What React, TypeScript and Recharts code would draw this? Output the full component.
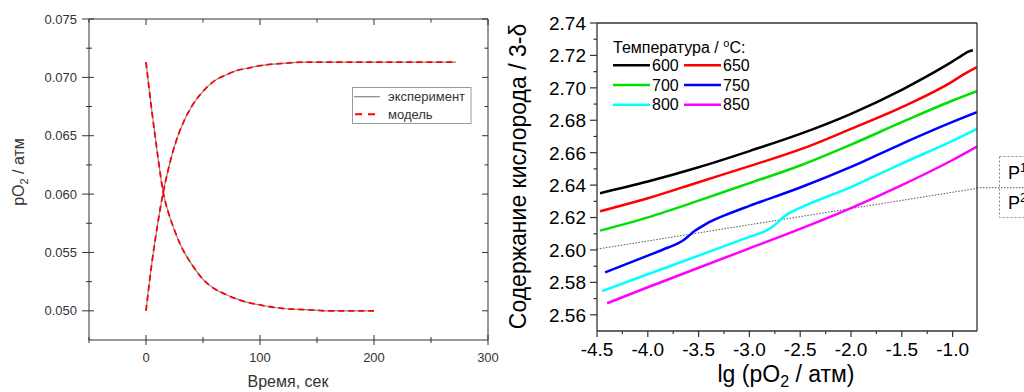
import React from "react";
import { LineChart, Line, XAxis, YAxis } from "recharts";

// ---- left panel: pO2 relaxation ----
const riseTime = [0, 5, 10, 15, 20, 25, 30, 40, 50, 60, 70, 80, 90, 100, 120, 140, 160, 200, 240, 272];
const risePO2 = [0.05, 0.054, 0.0573, 0.0601, 0.0623, 0.0641, 0.0655, 0.0675, 0.0688, 0.0697, 0.0702, 0.0706, 0.0708, 0.071, 0.0712, 0.0713, 0.0713, 0.0713, 0.0713, 0.0713];
const fallTime = [0, 5, 10, 15, 20, 25, 30, 40, 50, 60, 70, 80, 90, 100, 120, 140, 160, 180, 200];
const fallPO2 = [0.0713, 0.0672, 0.0635, 0.0602, 0.0583, 0.0569, 0.0557, 0.054, 0.0527, 0.0519, 0.0514, 0.051, 0.0507, 0.0505, 0.0502, 0.0501, 0.05, 0.05, 0.05];
const timeTicks = [-50, 0, 50, 100, 150, 200, 250, 300];
const po2Ticks = [0.05, 0.0525, 0.055, 0.0575, 0.06, 0.0625, 0.065, 0.0675, 0.07, 0.0725, 0.075];

// ---- right panel: oxygen content vs lg pO2 ----
const lg600 = [-4.47, -4.0, -3.5, -3.0, -2.5, -2.0, -1.5, -1.25, -1.0, -0.9, -0.85, -0.8];
const oc600 = [2.635, 2.6422, 2.651, 2.661, 2.6716, 2.684, 2.6988, 2.7072, 2.7163, 2.7203, 2.7222, 2.7232];
const lg650 = [-4.47, -4.0, -3.5, -3.0, -2.5, -2.0, -1.5, -1.0, -0.9, -0.76];
const oc650 = [2.6239, 2.6319, 2.6418, 2.6517, 2.662, 2.6747, 2.6881, 2.704, 2.708, 2.7128];
const lg700 = [-4.47, -4.0, -3.5, -3.0, -2.5, -2.0, -1.5, -1.0, -0.76];
const oc700 = [2.6119, 2.6201, 2.6304, 2.6412, 2.6521, 2.665, 2.6788, 2.6922, 2.698];
const lg750 = [-4.42, -4.0, -3.8, -3.7, -3.65, -3.6, -3.55, -3.5, -3.45, -3.4, -3.2, -3.0, -2.5, -2.0, -1.5, -1.0, -0.76];
const oc750 = [2.5862, 2.5965, 2.6015, 2.6042, 2.606, 2.6085, 2.6112, 2.6133, 2.6152, 2.617, 2.6225, 2.6272, 2.6385, 2.6512, 2.6655, 2.679, 2.685];
const lg800 = [-4.45, -4.0, -3.5, -3.0, -2.85, -2.78, -2.72, -2.66, -2.6, -2.5, -2.0, -1.5, -1.0, -0.76];
const oc800 = [2.5746, 2.585, 2.5965, 2.6081, 2.6115, 2.614, 2.617, 2.6205, 2.623, 2.626, 2.6388, 2.6533, 2.6673, 2.6747];
const lg850 = [-4.4, -4.0, -3.5, -3.0, -2.5, -2.0, -1.5, -1.0, -0.76];
const oc850 = [2.5671, 2.577, 2.589, 2.601, 2.613, 2.6258, 2.64, 2.6555, 2.6638];
const lgBorder = [-4.5, -0.76];
const ocBorder = [2.6005, 2.638];
const lgTicks = [-4.5, -4.25, -4.0, -3.75, -3.5, -3.25, -3.0, -2.75, -2.5, -2.25, -2.0, -1.75, -1.5, -1.25, -1.0];
const ocTicks = [2.56, 2.57, 2.58, 2.59, 2.6, 2.61, 2.62, 2.63, 2.64, 2.65, 2.66, 2.67, 2.68, 2.69, 2.7, 2.71, 2.72, 2.73, 2.74];
const temps = ["600", "650", "700", "750", "800", "850"];
const tempColors = ["#000000", "#ff0000", "#00e000", "#0000ff", "#00ffff", "#ff00ff"];

const FONT = "'Liberation Sans', Arial, Helvetica, sans-serif";
const AX = "#333";

const zip = (xs: number[], ys: number[], xk: string, yk: string) =>
  xs.map((x, i) => ({ [xk]: x, [yk]: ys[i] }));

const near = (v: number, step: number) => Math.abs(v / step - Math.round(v / step)) < 1e-6;

const riseData = zip(riseTime, risePO2, "t", "p");
const fallData = zip(fallTime, fallPO2, "t", "p");
const series = [
  zip(lg600, oc600, "x", "y"),
  zip(lg650, oc650, "x", "y"),
  zip(lg700, oc700, "x", "y"),
  zip(lg750, oc750, "x", "y"),
  zip(lg800, oc800, "x", "y"),
  zip(lg850, oc850, "x", "y"),
];
const borderData = zip(lgBorder, ocBorder, "x", "y");

// tick renderers: (x, y) is the point on the axis line (tickSize/tickMargin are 0)
const leftYTick = (p: any) => {
  const major = near(p.payload.value, 0.005);
  return (
    <g>
      <line x1={p.x - (major ? 7 : 3)} x2={p.x + (major ? 5 : 3)} y1={p.y} y2={p.y} stroke={AX} />
      {major && (
        <text x={p.x - 12} y={p.y} dy="0.36em" textAnchor="end" fontSize={13} fill={AX} fontFamily={FONT}>
          {p.payload.value.toFixed(3)}
        </text>
      )}
    </g>
  );
};
const rightYTick = (p: any) => {
  const major = near(p.payload.value, 0.005);
  return <line x1={p.x} x2={p.x - (major ? 6 : 3.5)} y1={p.y} y2={p.y} stroke={AX} />;
};
const bottomXTick = (p: any) => {
  const major = near(p.payload.value, 100);
  return (
    <g>
      <line x1={p.x} x2={p.x} y1={p.y - (major ? 5 : 3)} y2={p.y + (major ? 5 : 3)} stroke={AX} />
      {major && (
        <text x={p.x} y={p.y + 22} textAnchor="middle" fontSize={13} fill={AX} fontFamily={FONT}>
          {p.payload.value}
        </text>
      )}
    </g>
  );
};
const topXTick = (p: any) => {
  const major = near(p.payload.value, 100);
  return <line x1={p.x} x2={p.x} y1={p.y} y2={p.y + (major ? 6 : 3.5)} stroke={AX} />;
};
const ocTick = (p: any) => {
  const major = near(p.payload.value, 0.02);
  return (
    <g>
      <line x1={p.x - (major ? 7 : 3.5)} x2={p.x} y1={p.y} y2={p.y} stroke={AX} strokeWidth={1.2} />
      {major && (
        <text x={p.x - 11} y={p.y} dy="0.36em" textAnchor="end" fontSize={19} fill="#000" fontFamily={FONT}>
          {p.payload.value.toFixed(2)}
        </text>
      )}
    </g>
  );
};
const lgTick = (p: any) => {
  const major = near(p.payload.value, 0.5);
  return (
    <g>
      <line x1={p.x} x2={p.x} y1={p.y} y2={p.y + (major ? 6 : 3)} stroke={AX} strokeWidth={1.2} />
      {major && (
        <text x={p.x} y={p.y + 25} textAnchor="middle" fontSize={19} fill="#000" fontFamily={FONT}>
          {p.payload.value.toFixed(1)}
        </text>
      )}
    </g>
  );
};

const App = () => {
  return (
    <div style={{ position: "absolute", left: 0, top: 0, width: 1024, height: 392, background: "#fff" }}>
      <div style={{ position: "absolute", left: 0, top: 0 }}>
        <LineChart width={500} height={392} margin={{ top: 18, right: 11, bottom: 51, left: 88 }}>
          <XAxis type="number" dataKey="t" domain={[-50, 300]} ticks={timeTicks} interval={0} height={1}
            tickSize={0} tickMargin={0} tickLine={false} tick={bottomXTick} stroke={AX} allowDataOverflow />
          <XAxis xAxisId="top" orientation="top" type="number" dataKey="t" domain={[-50, 300]} ticks={timeTicks}
            interval={0} height={1} tickSize={0} tickMargin={0} tickLine={false} tick={topXTick} stroke={AX} allowDataOverflow />
          <YAxis type="number" domain={[0.0475, 0.075]} ticks={po2Ticks} interval={0} width={1}
            tickSize={0} tickMargin={0} tickLine={false} tick={leftYTick} stroke={AX} allowDataOverflow />
          <YAxis yAxisId="right" orientation="right" type="number" domain={[0.0475, 0.075]} ticks={po2Ticks}
            interval={0} width={1} tickSize={0} tickMargin={0} tickLine={false} tick={rightYTick} stroke={AX} allowDataOverflow />
          <Line data={riseData} dataKey="p" type="monotone" stroke="#888" strokeWidth={1.2} dot={false} isAnimationActive={false} />
          <Line data={fallData} dataKey="p" type="monotone" stroke="#888" strokeWidth={1.2} dot={false} isAnimationActive={false} />
          <Line data={riseData} dataKey="p" type="monotone" stroke="#ff0000" strokeWidth={1.8} strokeDasharray="6 4" dot={false} isAnimationActive={false} />
          <Line data={fallData} dataKey="p" type="monotone" stroke="#ff0000" strokeWidth={1.8} strokeDasharray="6 4" dot={false} isAnimationActive={false} />
        </LineChart>
      </div>
      <div style={{ position: "absolute", left: 500, top: 0 }}>
        <LineChart width={524} height={392} margin={{ top: 22, right: 46, bottom: 60, left: 96 }}>
          <XAxis type="number" dataKey="x" domain={[-4.5, -0.76]} ticks={lgTicks} interval={0} height={1}
            tickSize={0} tickMargin={0} tickLine={false} tick={lgTick} stroke={AX} strokeWidth={1.3} allowDataOverflow />
          <XAxis xAxisId="top" orientation="top" type="number" dataKey="x" domain={[-4.5, -0.76]} height={1}
            tickLine={false} tick={false} stroke={AX} strokeWidth={1.3} allowDataOverflow />
          <YAxis type="number" domain={[2.55, 2.74]} ticks={ocTicks} interval={0} width={1}
            tickSize={0} tickMargin={0} tickLine={false} tick={ocTick} stroke={AX} strokeWidth={1.3} allowDataOverflow />
          <YAxis yAxisId="right" orientation="right" type="number" domain={[2.55, 2.74]} width={1}
            tickLine={false} tick={false} stroke={AX} strokeWidth={1.3} allowDataOverflow />
          <Line data={borderData} dataKey="y" type="linear" stroke="#555" strokeWidth={1} strokeDasharray="1.5 1.5" dot={false} isAnimationActive={false} />
          {series.map((d, i) => (
            <Line key={temps[i]} data={d} dataKey="y" type="monotone" stroke={tempColors[i]} strokeWidth={2.5} dot={false} isAnimationActive={false} />
          ))}
        </LineChart>
      </div>
      <svg width={1024} height={392} style={{ position: "absolute", left: 0, top: 0, pointerEvents: "none" }} fontFamily={FONT}>
        {/* left axis titles */}
        <text transform="translate(24,172) rotate(-90)" textAnchor="middle" fontSize={16} fill={AX}>
          pO<tspan fontSize={11} dy={4}>2</tspan><tspan dy={-4}> / атм</tspan>
        </text>
        <text x={288} y={387} textAnchor="middle" fontSize={16} fill={AX}>Время, сек</text>
        {/* left legend */}
        <rect x={352.5} y={87.5} width={118.5} height={36} fill="#fff" stroke="#999" />
        <line x1={354} x2={380} y1={96.7} y2={96.7} stroke="#888" strokeWidth={1.2} />
        <text x={388} y={101.3} fontSize={13} fill={AX}>эксперимент</text>
        <line x1={355} x2={378} y1={114.3} y2={114.3} stroke="#ff0000" strokeWidth={2} strokeDasharray="7 6" />
        <text x={388} y={118.9} fontSize={13} fill={AX}>модель</text>
        {/* right axis titles */}
        <text transform="translate(526,176.5) rotate(-90)" textAnchor="middle" fontSize={23} fill="#000">
          Содержание кислорода / 3-δ
        </text>
        <text x={786} y={382} textAnchor="middle" fontSize={23} fill="#000">
          lg (pO<tspan fontSize={16} dy={5}>2</tspan><tspan dy={-5}> / атм)</tspan>
        </text>
        {/* right legend */}
        <text x={613} y={52.5} fontSize={16} fill="#000">
          Температура / <tspan fontSize={11} dy={-6}>o</tspan><tspan dy={6}>C:</tspan>
        </text>
        {temps.map((t, i) => {
          const col = i % 2;
          const row = Math.floor(i / 2);
          const y = 65.3 + row * 19.7;
          const x0 = 613 + col * 71;
          return (
            <g key={t}>
              <line x1={x0} x2={x0 + 37} y1={y} y2={y} stroke={tempColors[i]} strokeWidth={2.5} />
              <text x={x0 + 39} y={y + 5.7} fontSize={16} fill="#000">{t}</text>
            </g>
          );
        })}
        {/* cut-off side panel */}
        <line x1={977} x2={1024} y1={187.7} y2={187.7} stroke="#555" strokeDasharray="1.5 1.5" />
        <rect x={999.5} y={156.5} width={60} height={61} fill="none" stroke="#888" strokeDasharray="2 2" />
        <text x={1008} y={179} fontSize={18} fill="#000">P<tspan fontSize={12} dy={-7}>1</tspan></text>
        <text x={1008} y={209} fontSize={18} fill="#000">P<tspan fontSize={12} dy={-7}>2</tspan></text>
      </svg>
    </div>
  );
};

export default App;
